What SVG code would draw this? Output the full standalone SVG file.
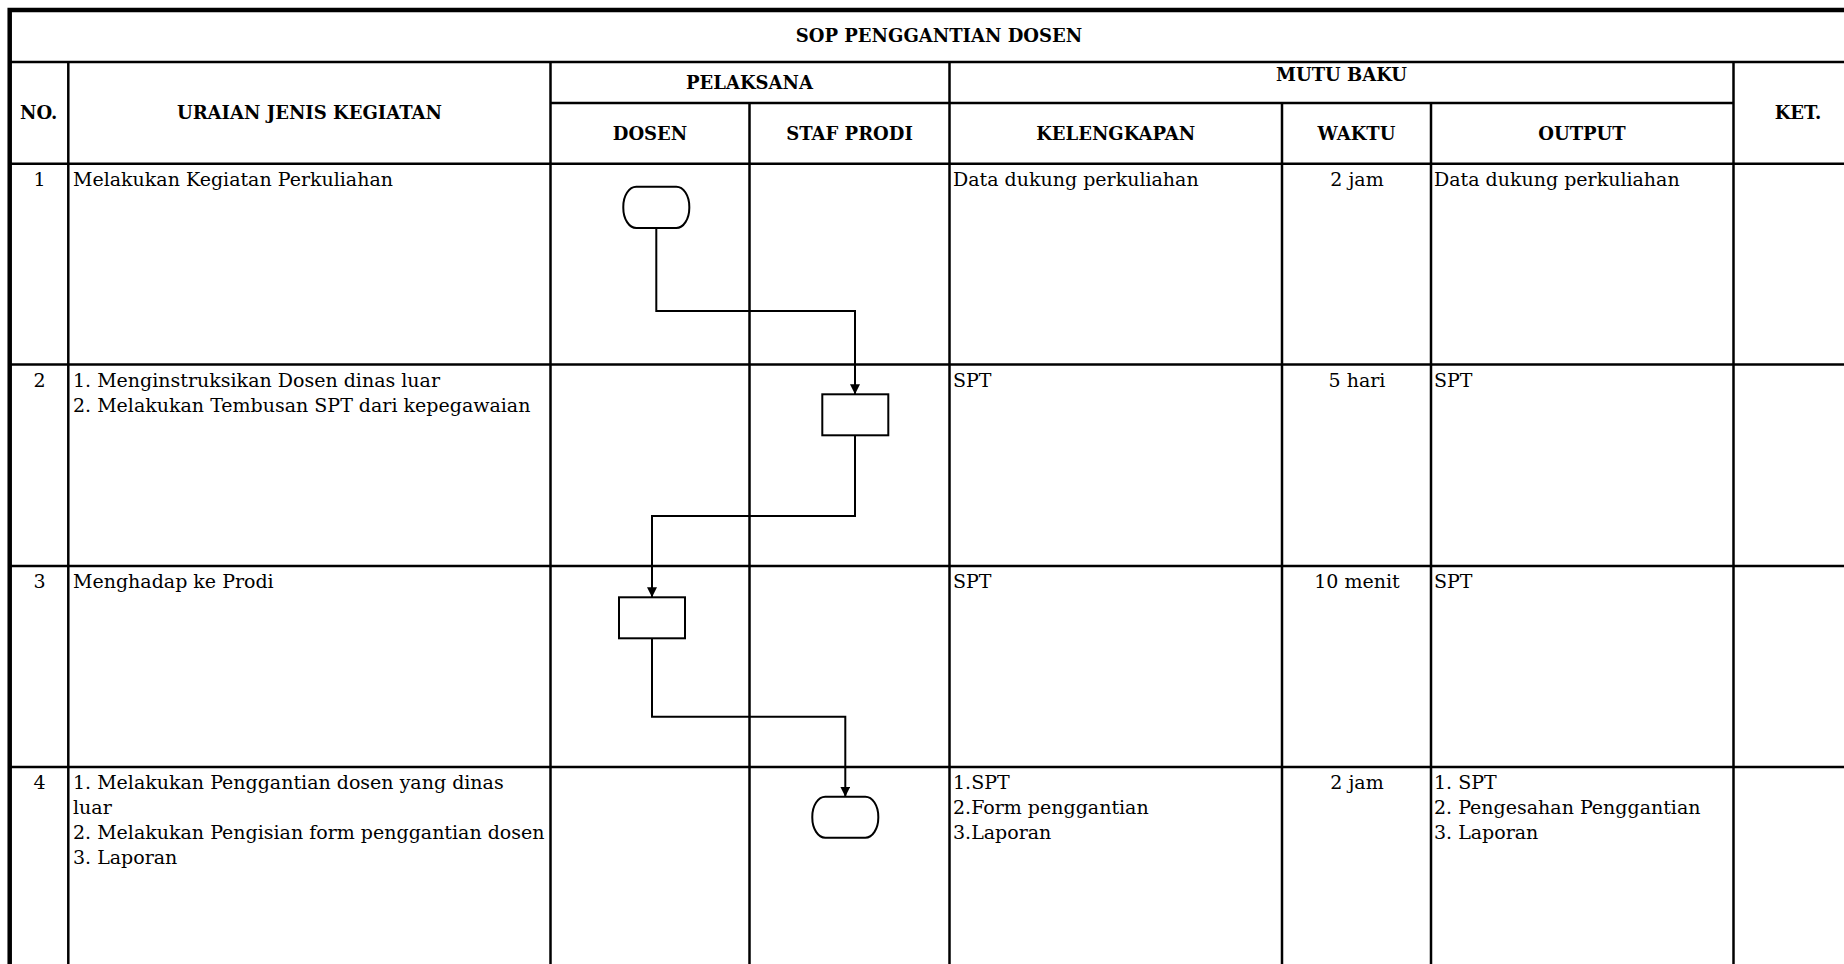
<svg xmlns="http://www.w3.org/2000/svg" width="1844" height="964" viewBox="0 0 1844 964">
<style>
.grid{stroke:#000;stroke-width:2.5;fill:none}
.outer{stroke:#000;stroke-width:4.5;fill:none}
.h{font-family:"DejaVu Serif","Liberation Serif",serif;font-weight:bold;font-size:18px;fill:#000;text-anchor:middle}
.t{font-family:"DejaVu Serif","Liberation Serif",serif;font-size:19px;fill:#000}
.c{text-anchor:middle}
.shape{fill:#fff;stroke:#000;stroke-width:2}
.conn{fill:none;stroke:#000;stroke-width:2}
</style>
<defs>
<marker id="arr" markerUnits="userSpaceOnUse" markerWidth="10" markerHeight="10" refX="10" refY="5" orient="auto">
<path d="M0,0 L10,5 L0,10 z" fill="#000"/>
</marker>
</defs>
<rect width="1844" height="964" fill="#fff"/>
<g id="table">
<line class="grid" x1="9.7" y1="62" x2="1844" y2="62"/>
<line class="grid" x1="550.5" y1="103" x2="1733.5" y2="103"/>
<line class="grid" x1="9.7" y1="163.7" x2="1844" y2="163.7"/>
<line class="grid" x1="9.7" y1="364.5" x2="1844" y2="364.5"/>
<line class="grid" x1="9.7" y1="566" x2="1844" y2="566"/>
<line class="grid" x1="9.7" y1="767" x2="1844" y2="767"/>
<line class="grid" x1="68.3" y1="62" x2="68.3" y2="964"/>
<line class="grid" x1="550.5" y1="62" x2="550.5" y2="964"/>
<line class="grid" x1="749.5" y1="103" x2="749.5" y2="964"/>
<line class="grid" x1="949.5" y1="62" x2="949.5" y2="964"/>
<line class="grid" x1="1282" y1="103" x2="1282" y2="964"/>
<line class="grid" x1="1431" y1="103" x2="1431" y2="964"/>
<line class="grid" x1="1733.5" y1="62" x2="1733.5" y2="964"/>
<polyline class="outer" points="9.7,964 9.7,10 1844,10"/>
</g>
<g id="headers">
<text class="h" x="939" y="42">SOP PENGGANTIAN DOSEN</text>
<text class="h" x="38.7" y="119">NO.</text>
<text class="h" x="309.5" y="119">URAIAN JENIS KEGIATAN</text>
<text class="h" x="749.5" y="89">PELAKSANA</text>
<text class="h" x="1341.5" y="81">MUTU BAKU</text>
<text class="h" x="1798" y="119">KET.</text>
<text class="h" x="650" y="140">DOSEN</text>
<text class="h" x="849.5" y="140">STAF PRODI</text>
<text class="h" x="1115.7" y="140">KELENGKAPAN</text>
<text class="h" x="1356.5" y="140">WAKTU</text>
<text class="h" x="1582" y="140">OUTPUT</text>
</g>
<g id="row1">
<text class="t c" x="39.5" y="186">1</text>
<text class="t" x="73" y="186">Melakukan Kegiatan Perkuliahan</text>
<text class="t" x="953" y="186">Data dukung perkuliahan</text>
<text class="t c" x="1357" y="186">2 jam</text>
<text class="t" x="1434" y="186">Data dukung perkuliahan</text>
</g>
<g id="row2">
<text class="t c" x="39.5" y="387">2</text>
<text class="t" x="73" y="387">1. Menginstruksikan Dosen dinas luar</text>
<text class="t" x="73" y="412">2. Melakukan Tembusan SPT dari kepegawaian</text>
<text class="t" x="953" y="387">SPT</text>
<text class="t c" x="1357" y="387">5 hari</text>
<text class="t" x="1434" y="387">SPT</text>
</g>
<g id="row3">
<text class="t c" x="39.5" y="588">3</text>
<text class="t" x="73" y="588">Menghadap ke Prodi</text>
<text class="t" x="953" y="588">SPT</text>
<text class="t c" x="1357" y="588">10 menit</text>
<text class="t" x="1434" y="588">SPT</text>
</g>
<g id="row4">
<text class="t c" x="39.5" y="789">4</text>
<text class="t" x="73" y="789">1. Melakukan Penggantian dosen yang dinas</text>
<text class="t" x="73" y="814">luar</text>
<text class="t" x="73" y="839">2. Melakukan Pengisian form penggantian dosen</text>
<text class="t" x="73" y="864">3. Laporan</text>
<text class="t" x="953" y="789">1.SPT</text>
<text class="t" x="953" y="814">2.Form penggantian</text>
<text class="t" x="953" y="839">3.Laporan</text>
<text class="t c" x="1357" y="789">2 jam</text>
<text class="t" x="1434" y="789">1. SPT</text>
<text class="t" x="1434" y="814">2. Pengesahan Penggantian</text>
<text class="t" x="1434" y="839">3. Laporan</text>
</g>
<g id="connectors">
<path class="conn" d="M656.3,228 V311 H855 V394.3" marker-end="url(#arr)"/>
<path class="conn" d="M855,435.3 V516 H652 V597.3" marker-end="url(#arr)"/>
<path class="conn" d="M652,638.3 V716.7 H845.3 V796.7" marker-end="url(#arr)"/>
</g>
<g id="node-start">
<rect class="shape" x="623.3" y="186.7" width="66" height="41.3" rx="13" ry="20"/>
</g>
<g id="node-instruksi">
<rect class="shape" x="822.3" y="394.3" width="66" height="41"/>
</g>
<g id="node-menghadap">
<rect class="shape" x="619" y="597.3" width="66" height="41"/>
</g>
<g id="node-end">
<rect class="shape" x="812.3" y="796.7" width="66" height="41" rx="13" ry="20"/>
</g>
</svg>
